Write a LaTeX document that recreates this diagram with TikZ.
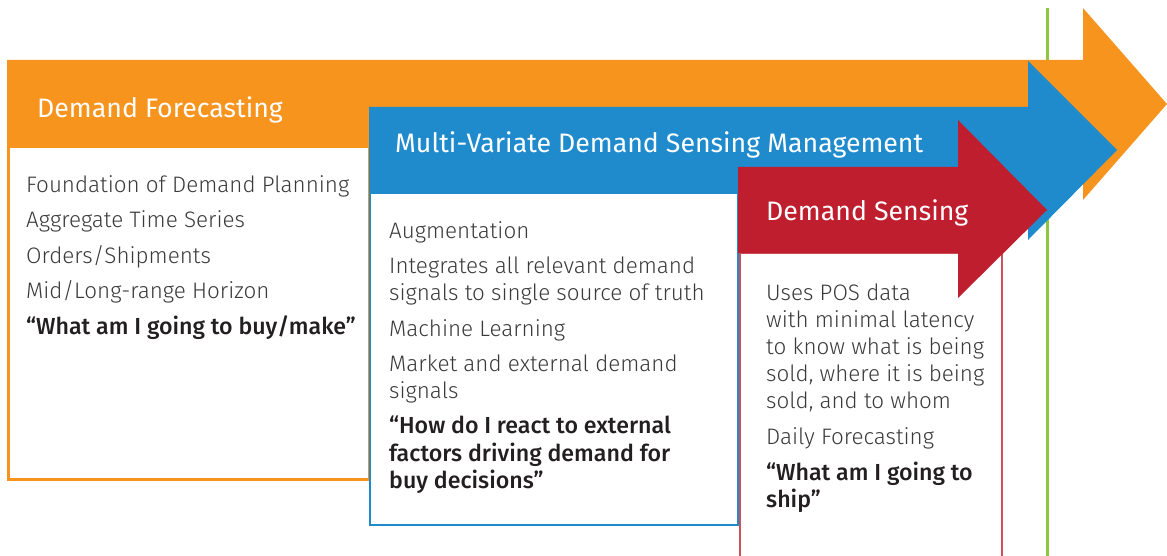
\documentclass[tikz,border=0pt]{standalone}
\usepackage{fontspec}
\setmainfont{Fira Sans Light}[BoldFont={Fira Sans Medium}]
\newfontfamily\headfont{Fira Sans}
\definecolor{dforange}{HTML}{F7941E}
\definecolor{dmblue}{HTML}{1F8BCC}
\definecolor{dsred}{HTML}{BE1E2D}
\definecolor{dsredline}{HTML}{D0505E}
\definecolor{dgreen}{HTML}{8DC63F}
\definecolor{bodytext}{HTML}{3A3A3A}
\definecolor{quotetext}{HTML}{231F20}
\tikzset{
  head/.style={anchor=base west, inner sep=0pt, text=white, font=\headfont\fontsize{26.7}{32}\selectfont},
  body/.style={anchor=base west, inner sep=0pt, text=bodytext, font=\fontsize{22.4}{27}\selectfont},
  quote/.style={anchor=base west, inner sep=0pt, text=quotetext, font=\bfseries\fontsize{23.2}{28}\selectfont},
}
\begin{document}
\begin{tikzpicture}[x=1pt,y=-1pt]
\useasboundingbox (0,0) rectangle (1167,556);
% green line
\draw[dgreen, line width=3pt] (1047,8) coordinate (g1) -- (1047,556) coordinate (g2);
% orange
\draw[dforange, line width=3pt, fill=white] (8.5,147) rectangle (369,479);
\fill[dforange] (7,60) -- (1083,60) -- (1083,8) -- (1167,104) -- (1083,200) -- (1083,147) -- (7,147) -- cycle;
% blue
\draw[dmblue, line width=2pt, fill=white] (370,193) rectangle (738,525);
\fill[dmblue] (369,107) -- (1028,107) -- (1028,61) -- (1117,150) -- (1028,240) -- (1028,193) -- (369,193) -- cycle;
% red
\draw[dsredline, line width=2pt, fill=white] (739.5,253) rectangle (1002,570);
\fill[dsred] (738,167) -- (958,167) -- (958,120) -- (1047,210) -- (958,298) -- (958,253) -- (738,253) -- cycle;
% headers
\node[head] (h1) at (37,118) {Demand Forecasting};
\node[head] (h2) at (395,153) {Multi-Variate Demand Sensing Management};
\node[head] (h3) at (766,221) {Demand Sensing};
% orange body
\node[body] (o1) at (26,193) {Foundation of Demand Planning};
\node[body] (o2) at (26,228) {Aggregate Time Series};
\node[body] (o3) at (26,263) {Orders/Shipments};
\node[body] (o4) at (26,298) {Mid/Long-range Horizon};
\node[quote] (o5) at (26,334) {“What am I going to buy/make”};
% blue body
\node[body] (b1) at (389,238) {Augmentation};
\node[body] (b2) at (389,273) {Integrates all relevant demand};
\node[body] (b3) at (389,300) {signals to single source of truth};
\node[body] (b4) at (389,336) {Machine Learning};
\node[body] (b5) at (389,371) {Market and external demand};
\node[body] (b6) at (389,398) {signals};
\node[quote] (b7) at (389,433) {“How do I react to external};
\node[quote] (b8) at (389,461) {factors driving demand for};
\node[quote] (b9) at (389,488) {buy decisions”};
% red body
\node[body] (r1) at (766,300) {Uses POS data};
\node[body] (r2) at (766,327) {with minimal latency};
\node[body] (r3) at (766,354) {to know what is being};
\node[body] (r4) at (766,381) {sold, where it is being};
\node[body] (r5) at (766,408) {sold, and to whom};
\node[body] (r6) at (766,444) {Daily Forecasting};
\node[quote] (r7) at (766,480) {“What am I going to};
\node[quote] (r8) at (766,507) {ship”};
\end{tikzpicture}
\end{document}
